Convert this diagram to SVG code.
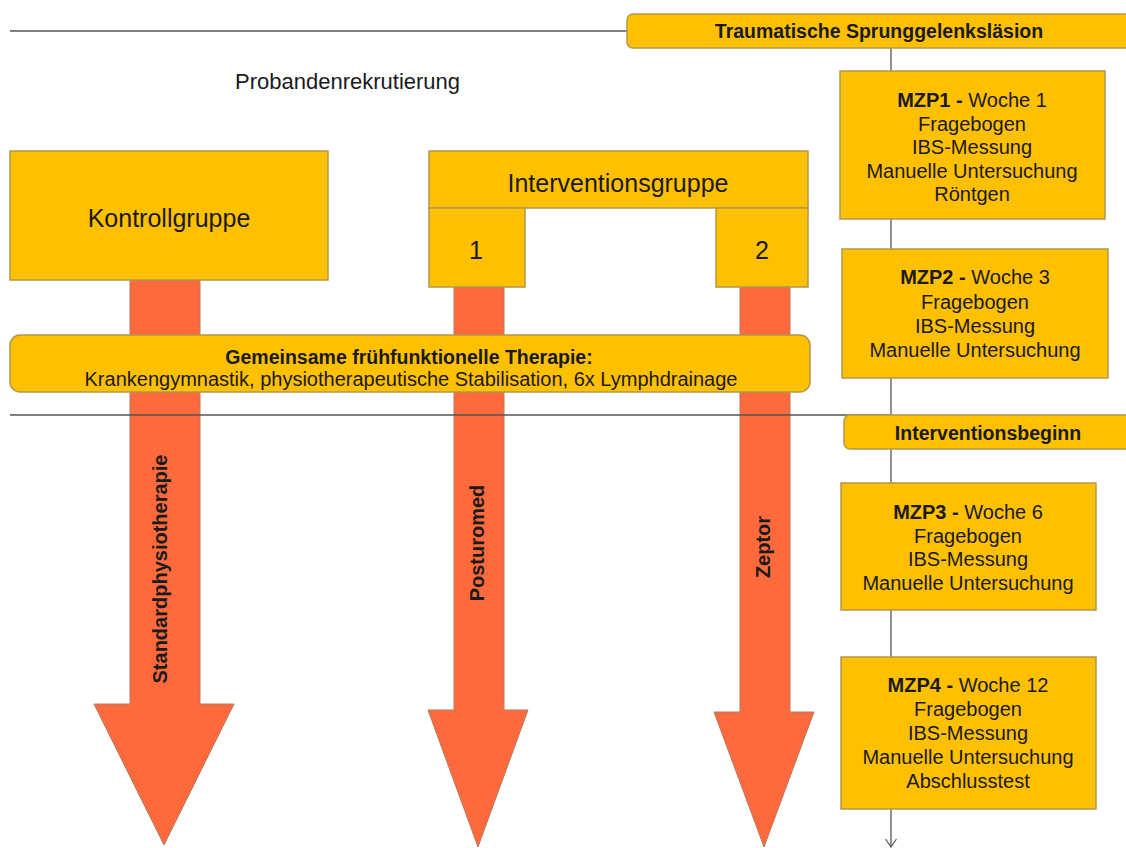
<svg xmlns="http://www.w3.org/2000/svg" width="1126" height="848" viewBox="0 0 1126 848">
<defs>
<style>
.box{fill:#FFC000;stroke:#B3974E;stroke-width:1.5}
.arrow{fill:#FF6A3D;stroke:#B07A66;stroke-width:1}
.line{stroke:#555;stroke-width:1.3;fill:none}
text{font-family:"Liberation Sans",Arial,sans-serif;fill:#1a1a1a}
.t20{font-size:20px;text-anchor:middle}
.b{font-weight:bold}
.big{font-size:25px;text-anchor:middle}
</style>
<marker id="open" viewBox="0 0 12 12" refX="11" refY="6" markerWidth="12" markerHeight="12" markerUnits="userSpaceOnUse" orient="auto">
<path d="M3,0.5 L11,6 L3,11.5" fill="none" stroke="#555" stroke-width="1.2"/>
</marker>
</defs>
<rect width="1126" height="848" fill="#fff"/>

<g id="arrows">
<polygon class="arrow" points="130,280 200,280 200,704 234,704 164,845 94,704 130,704"/>
<polygon class="arrow" points="454,287 504,287 504,710 528,710 478,847 428,710 454,710"/>
<polygon class="arrow" points="740,287 790,287 790,712 814,712 764,847 714,712 740,712"/>
</g>

<g id="connectors">
<line class="line" x1="10" y1="31" x2="627" y2="31"/>
<line class="line" x1="10" y1="415" x2="891" y2="415"/>
<line class="line" x1="891" y1="48" x2="891" y2="847" marker-end="url(#open)"/>
</g>

<g id="labels-arrows">
<text class="t20 b" transform="translate(160,569) rotate(-90)" x="0" y="7">Standardphysiotherapie</text>
<text class="t20 b" transform="translate(477,543) rotate(-90)" x="0" y="7">Posturomed</text>
<text class="t20 b" transform="translate(763,547) rotate(-90)" x="0" y="7">Zeptor</text>
</g>

<g id="probanden">
<text x="235" y="89" style="font-size:22px">Probandenrekrutierung</text>
</g>

<g id="kontrollgruppe">
<rect class="box" x="10" y="151" width="318" height="129"/>
<text class="big" x="169" y="227">Kontrollgruppe</text>
</g>

<g id="interventionsgruppe">
<rect class="box" x="429" y="151" width="379" height="57"/>
<text class="big" x="618" y="192">Interventionsgruppe</text>
</g>

<g id="gruppe1">
<rect class="box" x="429" y="208" width="96" height="79"/>
<text class="big" x="476" y="259">1</text>
</g>

<g id="gruppe2">
<rect class="box" x="716" y="208" width="92" height="79"/>
<text class="big" x="762" y="259">2</text>
</g>

<g id="gemeinsame">
<rect class="box" x="10" y="335" width="800" height="57" rx="10"/>
<text class="t20 b" x="409" y="364" style="font-size:19.5px">Gemeinsame frühfunktionelle Therapie:</text>
<text class="t20" x="411" y="386">Krankengymnastik, physiotherapeutische Stabilisation, 6x Lymphdrainage</text>
</g>

<g id="trauma">
<rect class="box" x="627" y="14" width="520" height="34" rx="6"/>
<text class="t20 b" x="879" y="38" style="font-size:19.5px">Traumatische Sprunggelenksläsion</text>
</g>

<g id="mzp1">
<rect class="box" x="840" y="71" width="265" height="148"/>
<text class="t20" x="972" y="107"><tspan class="b">MZP1 -</tspan> Woche 1</text>
<text class="t20" x="972" y="131">Fragebogen</text>
<text class="t20" x="972" y="154">IBS-Messung</text>
<text class="t20" x="972" y="178">Manuelle Untersuchung</text>
<text class="t20" x="972" y="201">Röntgen</text>
</g>

<g id="mzp2">
<rect class="box" x="842" y="249" width="266" height="129"/>
<text class="t20" x="975" y="284"><tspan class="b">MZP2 -</tspan> Woche 3</text>
<text class="t20" x="975" y="309">Fragebogen</text>
<text class="t20" x="975" y="333">IBS-Messung</text>
<text class="t20" x="975" y="357">Manuelle Untersuchung</text>
</g>

<g id="interventionsbeginn">
<rect class="box" x="844" y="415" width="300" height="34" rx="6"/>
<text class="t20 b" x="988" y="440" style="font-size:19.5px">Interventionsbeginn</text>
</g>

<g id="mzp3">
<rect class="box" x="841" y="483" width="255" height="127"/>
<text class="t20" x="968" y="519"><tspan class="b">MZP3 -</tspan> Woche 6</text>
<text class="t20" x="968" y="543">Fragebogen</text>
<text class="t20" x="968" y="566">IBS-Messung</text>
<text class="t20" x="968" y="590">Manuelle Untersuchung</text>
</g>

<g id="mzp4">
<rect class="box" x="841" y="657" width="255" height="152"/>
<text class="t20" x="968" y="692"><tspan class="b">MZP4 -</tspan> Woche 12</text>
<text class="t20" x="968" y="716">Fragebogen</text>
<text class="t20" x="968" y="740">IBS-Messung</text>
<text class="t20" x="968" y="764">Manuelle Untersuchung</text>
<text class="t20" x="968" y="788">Abschlusstest</text>
</g>
</svg>
